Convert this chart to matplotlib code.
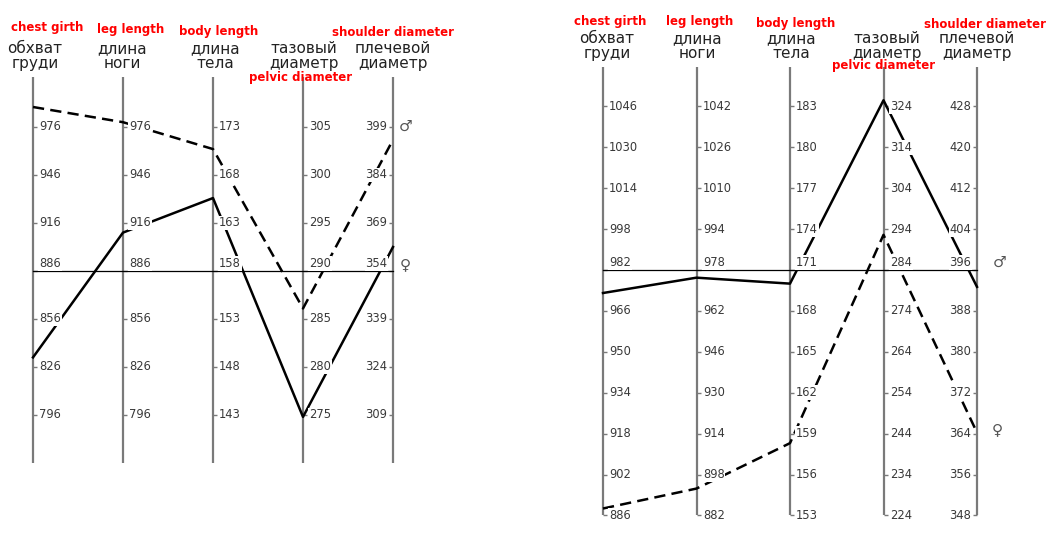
import matplotlib
matplotlib.use("Agg")
import matplotlib.pyplot as plt

# ---------------- data ----------------
labels_ru = ["обхват\nгруди", "длина\nноги", "длина\nтела", "тазовый\nдиаметр", "плечевой\nдиаметр"]
labels_en = ["chest girth", "leg length", "body length", "pelvic diameter", "shoulder diameter"]

# left panel: tick values per axis (top to bottom)
left_chest = [976, 946, 916, 886, 856, 826, 796]
left_leg = [976, 946, 916, 886, 856, 826, 796]
left_body = [173, 168, 163, 158, 153, 148, 143]
left_pelvic = [305, 300, 295, 290, 285, 280, 275]
left_shoulder = [399, 384, 369, 354, 339, 324, 309]
left_center_idx = 3
left_male = [988.5, 979, 170.7, 286.1, 395]      # dashed
left_female = [832, 910, 165.6, 274.8, 361.5]    # solid

# right panel
right_chest = [1046, 1030, 1014, 998, 982, 966, 950, 934, 918, 902, 886]
right_leg = [1042, 1026, 1010, 994, 978, 962, 946, 930, 914, 898, 882]
right_body = [183, 180, 177, 174, 171, 168, 165, 162, 159, 156, 153]
right_pelvic = [324, 314, 304, 294, 284, 274, 264, 254, 244, 234, 224]
right_shoulder = [428, 420, 412, 404, 396, 388, 380, 372, 364, 356, 348]
right_center_idx = 4
right_male = [973, 975, 170, 325.5, 392.7]       # solid
right_female = [888.7, 892.5, 158.3, 292.6, 364.2]  # dashed

W, H = 1046, 540
fig = plt.figure(figsize=(W / 100, H / 100), dpi=100)
fig.patch.set_facecolor("white")

AX_COLOR = "#7a7a7a"
TXT = "#383838"
DASH = (0, (4.5, 2.5))


def to_units(values, ticks_list, cidx):
    out = []
    for v, t in zip(values, ticks_list):
        c = t[cidx]
        step = t[0] - t[1]
        out.append((v - c) / step)
    return out


def panel(rect_px, x0_px, dx_px, y0_px, dy_px, ticks_list, cidx, ext, male, female,
          male_style, female_style):
    L, R = rect_px
    ax = fig.add_axes([L / W, 0, (R - L) / W, 1])
    ax.set_xlim(-(x0_px - L) / dx_px, (R - x0_px) / dx_px)
    ax.set_ylim(-(H - y0_px) / dy_px, y0_px / dy_px)
    ax.axis("off")
    n = len(ticks_list)
    for i, t in enumerate(ticks_list):
        ax.plot([i, i], [ext[0], ext[1]], color=AX_COLOR, lw=1.6, zorder=1,
                solid_capstyle="butt")
        ys = [(v - t[cidx]) / (t[0] - t[1]) for v in t]
        last = (i == n - 1)
        ax.plot([i] * len(ys), ys, ls="none", marker=0 if last else 1,
                ms=3, mew=1, color=AX_COLOR, zorder=1)
        for v, y in zip(t, ys):
            center = (v == t[cidx])
            ax.annotate(str(v), (i, y), xytext=(-4 if last else 4.5, 1 if center else 0),
                        textcoords="offset points", ha="right" if last else "left",
                        va="bottom" if center else "center", fontsize=8.3,
                        color=TXT, family="DejaVu Sans", zorder=4,
                        bbox=dict(boxstyle="square,pad=0.08", fc="white", ec="none"))
    ax.plot([0, n - 1], [0, 0], color="black", lw=0.9, zorder=2)
    xs = list(range(n))
    ax.plot(xs, to_units(male, ticks_list, cidx), color="black", lw=1.8, zorder=3, **male_style)
    ax.plot(xs, to_units(female, ticks_list, cidx), color="black", lw=1.8, zorder=3, **female_style)
    return ax


left_ticks = [left_chest, left_leg, left_body, left_pelvic, left_shoulder]
right_ticks = [right_chest, right_leg, right_body, right_pelvic, right_shoulder]

panel((0, 450), 33, 90, 271, 48, left_ticks, left_center_idx, (-4.0, 4.04),
      left_male, left_female, {"ls": DASH}, {"ls": "-"})
panel((560, 1046), 603, 93.5, 270, 40.9, right_ticks, right_center_idx, (-6.0, 4.96),
      right_male, right_female, {"ls": "-"}, {"ls": DASH})


def ftext(x, y, s, **kw):
    fig.text(x / W, 1 - y / H, s, **kw)


ru_kw = dict(ha="center", va="center", fontsize=11, color="#222222", linespacing=0.95,
             family="DejaVu Sans")
en_kw = dict(ha="center", va="center", fontsize=8.5, color="#ff0000", fontweight="bold",
             family="DejaVu Sans")

# left headers
left_ru_pos = [(35, 56), (122, 56), (215, 56), (304, 56), (393, 56)]
left_en_pos = [(47, 27), (131, 30), (219, 32), (301, 77), (393, 33)]
for s, (x, y) in zip(labels_ru, left_ru_pos):
    ftext(x, y, s, **ru_kw)
for s, (x, y) in zip(labels_en, left_en_pos):
    ftext(x, y, s, **en_kw)

# right headers
right_ru_pos = [(607, 46), (697, 46), (791, 46), (887, 46), (977, 46)]
right_en_pos = [(610, 22), (700, 21), (796, 23), (884, 66), (985, 25)]
for s, (x, y) in zip(labels_ru, right_ru_pos):
    ftext(x, y, s, **ru_kw)
for s, (x, y) in zip(labels_en, right_en_pos):
    ftext(x, y, s, **en_kw)

sym_kw = dict(ha="center", va="center", fontsize=11, color="#555555", family="DejaVu Sans")
ftext(406, 126, "♂", **sym_kw)
ftext(405, 265, "♀", **sym_kw)
ftext(1000, 262, "♂", **sym_kw)
ftext(997, 430, "♀", **sym_kw)

fig.savefig("out.png", dpi=100, facecolor="white")
